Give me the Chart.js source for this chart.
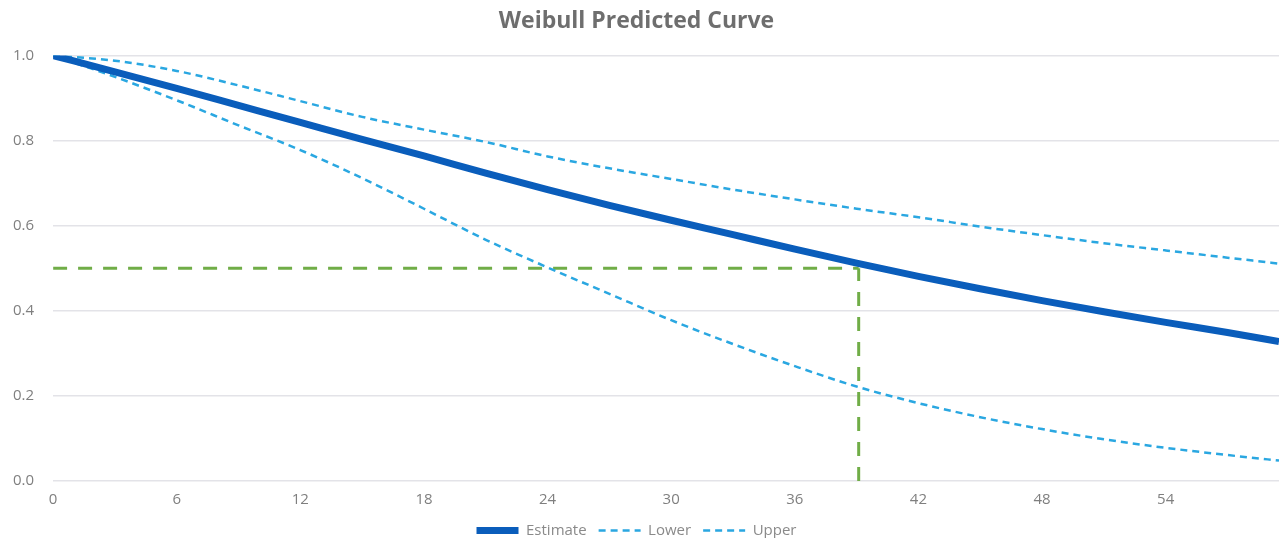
<!DOCTYPE html>
<html>
<head>
<meta charset="utf-8">
<script src="https://cdn.jsdelivr.net/npm/chart.js@4"></script>
<style>
  body { margin: 0; background: #fff; }
  #container { width: 1279px; height: 538px; }
</style>
</head>
<body>
<div id="container">
  <canvas id="myChart"></canvas>
</div>
<script>
// months
var months = [0, 3, 6, 9, 12, 15, 18, 21, 24, 27, 30, 33, 36, 39, 42, 45, 48, 51, 54, 57, 59.5]
var estimate = [1.0, 0.962, 0.923, 0.883, 0.843, 0.803, 0.764, 0.724, 0.685, 0.648, 0.613, 0.579, 0.545, 0.512, 0.481, 0.452, 0.424, 0.398, 0.373, 0.349, 0.328]
var lower = [1.0, 0.950, 0.895, 0.836, 0.778, 0.712, 0.640, 0.567, 0.502, 0.440, 0.378, 0.322, 0.270, 0.222, 0.183, 0.150, 0.122, 0.098, 0.078, 0.061, 0.048]
var upper = [1.0, 0.988, 0.964, 0.930, 0.893, 0.856, 0.826, 0.797, 0.763, 0.735, 0.710, 0.685, 0.662, 0.640, 0.620, 0.598, 0.578, 0.559, 0.542, 0.525, 0.511]
// median marker
var medianTime = 39.1
var medianLevel = 0.5

var pts = function (ys) {
    return months.map(function (m, i) { return { x: m, y: ys[i] } })
}

var myChart = document.getElementById('myChart').getContext('2d')
new Chart(myChart, {
    type: 'line',
    data: {
        datasets: [
            {
                label: 'Estimate',
                data: pts(estimate),
                borderColor: '#0A5DBB',
                backgroundColor: '#0A5DBB',
                borderWidth: 7,
                pointRadius: 0,
                cubicInterpolationMode: 'monotone',
                order: 1
            },
            {
                label: 'Lower',
                data: pts(lower),
                borderColor: '#2AA7E1',
                backgroundColor: '#2AA7E1',
                borderWidth: 2.5,
                borderDash: [7, 5],
                pointRadius: 0,
                cubicInterpolationMode: 'monotone',
                order: 2
            },
            {
                label: 'Upper',
                data: pts(upper),
                borderColor: '#2AA7E1',
                backgroundColor: '#2AA7E1',
                borderWidth: 2.5,
                borderDash: [7, 5],
                pointRadius: 0,
                cubicInterpolationMode: 'monotone',
                order: 3
            },
            {
                label: 'medianH',
                data: [{ x: 0, y: medianLevel }, { x: medianTime, y: medianLevel }],
                borderColor: '#70AD47',
                borderWidth: 3,
                borderDash: [14, 11],
                pointRadius: 0,
                order: 10
            },
            {
                label: 'medianV',
                data: [{ x: medianTime, y: 0 }, { x: medianTime, y: medianLevel }],
                borderColor: '#70AD47',
                borderWidth: 3,
                borderDash: [14, 11],
                pointRadius: 0,
                order: 10
            }
        ]
    },
    options: {
        responsive: true,
        maintainAspectRatio: false,
        animation: false,
        layout: { padding: { left: -6, right: 0, top: 5, bottom: -10 } },
        plugins: {
            title: {
                display: true,
                text: 'Weibull Predicted Curve',
                color: '#6e6e6e',
                font: { family: 'Open Sans', size: 23, weight: 'bold' },
                padding: { top: 3, bottom: 20 }
            },
            legend: {
                position: 'bottom',
                labels: {
                    generateLabels: function (chart) {
                        return Chart.defaults.plugins.legend.labels.generateLabels(chart)
                            .filter(function (it) { return it.datasetIndex < 3 })
                            .map(function (it) {
                                var ds = chart.data.datasets[it.datasetIndex]
                                it.lineDash = ds.borderDash || []
                                it.lineWidth = ds.borderWidth
                                it.strokeStyle = ds.borderColor
                                it.pointStyle = 'line'
                                return it
                            })
                    },
                    usePointStyle: true,
                    pointStyle: 'line',
                    pointStyleWidth: 42,
                    color: '#8a8a8a',
                    font: { family: 'Open Sans', size: 15 },
                    padding: 12
                }
            },
            tooltip: { enabled: false }
        },
        scales: {
            x: {
                type: 'linear',
                min: 0,
                max: 59.5,
                grid: { display: false },
                border: { display: false },
                ticks: {
                    stepSize: 6,
                    includeBounds: false,
                    color: '#7f7f7f',
                    font: { family: 'Open Sans', size: 15 },
                    padding: 2
                }
            },
            y: {
                min: 0,
                max: 1,
                grid: { color: '#e3e3e8', lineWidth: 1.5, drawTicks: false },
                border: { display: false },
                ticks: {
                    stepSize: 0.2,
                    color: '#7f7f7f',
                    font: { family: 'Open Sans', size: 15 },
                    padding: 19,
                    callback: function (v) { return v.toFixed(1) }
                }
            }
        }
    }
})
</script>
</body>
</html>
